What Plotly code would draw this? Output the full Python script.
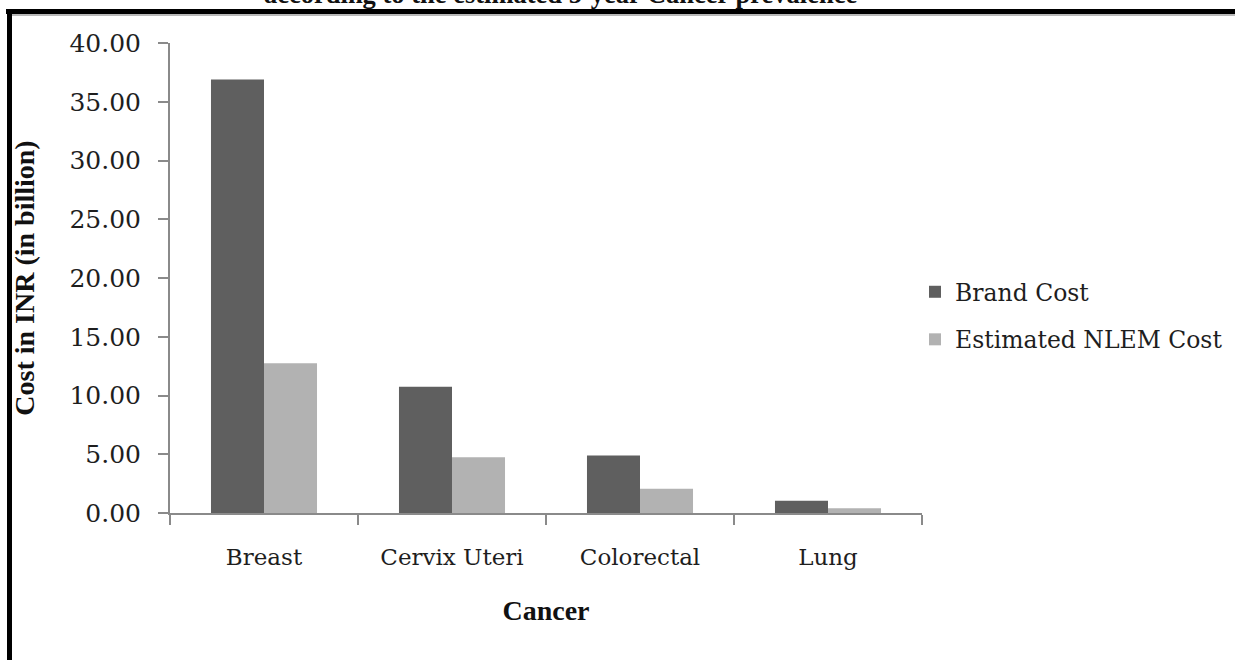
import plotly.graph_objects as go

# Cancer sites and estimated costs (INR billion)
cancers = ["Breast", "Cervix Uteri", "Colorectal", "Lung"]
brand_cost = [36.9, 10.75, 4.9, 1.05]
nlem_cost = [12.75, 4.75, 2.07, 0.4]
y_ticks = [0, 5, 10, 15, 20, 25, 30, 35, 40]
y_tick_text = [f"{v:.2f}" for v in y_ticks]

W, H = 1235, 660
L, R, T, B = 170, 313, 43, 147
PW, PH = W - L - R, H - T - B


def px_x(px):
    return (px - L) / PW


def px_y(py):
    return (H - B - py) / PH


x_tick_font = dict(family="DejaVu Serif", size=23, color="#1e1e1e")
y_tick_font = dict(family="DejaVu Serif", size=25, color="#1e1e1e")
legend_font = dict(family="DejaVu Serif", size=23.5, color="#1e1e1e")
title_font = dict(family="Liberation Serif", size=28, color="#111111")

fig = go.Figure()
fig.add_trace(go.Bar(
    x=cancers, y=brand_cost, name="Brand Cost",
    marker=dict(color="#5f5f5f", line=dict(width=0)),
    legendgroup="a",
))
fig.add_trace(go.Bar(
    x=cancers, y=nlem_cost, name="Estimated NLEM Cost",
    marker=dict(color="#b2b2b2", line=dict(width=0)),
    legendgroup="b",
))

fig.update_layout(
    width=W, height=H,
    margin=dict(l=L, r=R, t=T, b=B, autoexpand=False),
    paper_bgcolor="white", plot_bgcolor="white",
    barmode="group", bargap=0.436, bargroupgap=0,
    showlegend=True,
    legend=dict(
        x=px_x(915), xanchor="left",
        y=px_y(270), yanchor="top",
        font=legend_font,
        traceorder="grouped", tracegroupgap=14,
        bgcolor="rgba(0,0,0,0)",
    ),
    xaxis=dict(
        showline=True, linecolor="#8a8a8a", linewidth=2,
        ticks="outside", ticklen=10, tickwidth=2, tickcolor="#8a8a8a",
        tickson="boundaries",
        tickfont=x_tick_font, ticklabelstandoff=22,
        showgrid=False, zeroline=False,
        title=dict(text="<b>Cancer</b>", font=title_font, standoff=32),
    ),
    yaxis=dict(
        range=[0, 40],
        tickvals=y_ticks, ticktext=y_tick_text,
        showline=True, linecolor="#8a8a8a", linewidth=2,
        ticks="outside", ticklen=10, tickwidth=2, tickcolor="#8a8a8a",
        tickfont=y_tick_font, ticklabelstandoff=12,
        showgrid=False, zeroline=False,
        title=dict(text="<b>Cost in INR (in billion)</b>", font=title_font, standoff=27),
    ),
    shapes=[
        # frame: top and left edges, with a faint shadow under the top edge
        dict(type="line", xref="paper", yref="paper",
             x0=px_x(12), x1=px_x(1240), y0=px_y(15), y1=px_y(15),
             line=dict(color="#a0a0a0", width=1.5)),
        dict(type="line", xref="paper", yref="paper",
             x0=px_x(6), x1=px_x(1240), y0=px_y(11.5), y1=px_y(11.5),
             line=dict(color="black", width=5)),
        dict(type="line", xref="paper", yref="paper",
             x0=px_x(9.5), x1=px_x(9.5), y0=px_y(9), y1=px_y(670),
             line=dict(color="black", width=5)),
    ],
    annotations=[
        dict(text="<b>according to the estimated 5-year Cancer prevalence</b>",
             xref="paper", yref="paper", x=px_x(560), y=px_y(11),
             xanchor="center", yanchor="bottom", showarrow=False,
             font=dict(family="Liberation Serif", size=26.5, color="#111111")),
    ],
)

fig.write_html("out.html")
